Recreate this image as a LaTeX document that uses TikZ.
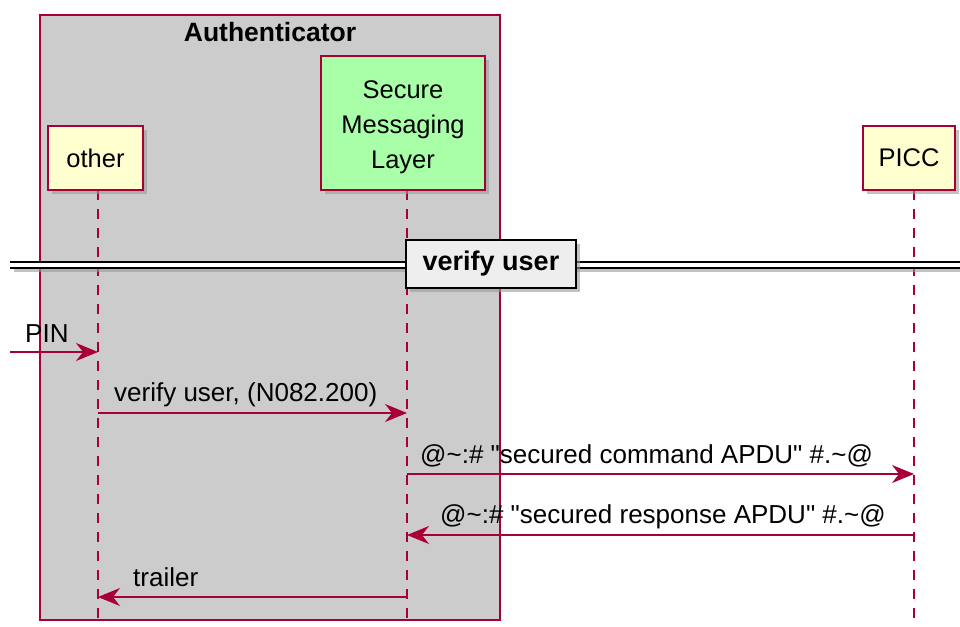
\documentclass[tikz,border=0pt]{standalone}
\usepackage{fontspec}
\setmainfont{Liberation Sans}
\usetikzlibrary{arrows.meta,positioning,shadows}
\definecolor{umlred}{HTML}{A80036}
\definecolor{umlyellow}{HTML}{FEFECE}
\definecolor{umlgreen}{HTML}{A8FFA8}
\definecolor{groupgray}{HTML}{CCCCCC}
\definecolor{dividergray}{HTML}{EEEEEE}

\begin{document}
\begin{tikzpicture}[x=1pt, y=-1pt,
    shade/.style={drop shadow={shadow xshift=4pt, shadow yshift=-4pt, fill=black!40, opacity=0.6}},
    part/.style={draw=umlred, line width=1.5pt, fill=umlyellow, inner sep=0pt, align=center,
      font=\fontsize{25.5}{35}\selectfont, shade},
    life/.style={umlred, line width=1.3pt, dash pattern=on 10pt off 9pt},
    msg/.style={umlred, line width=1.5pt, -{Stealth[length=22pt, width=18pt, inset=7pt]}},
    lbl/.style={anchor=west, inner sep=0pt, font=\fontsize{26}{30}\selectfont}
  ]
  \useasboundingbox (0,0) rectangle (960,626);

  % Gruppe
  \node[draw=umlred, line width=1.5pt, fill=groupgray, minimum width=460pt, minimum height=605pt, inner sep=0pt] (grp) at (270,317.5) {};
  \node[font=\fontsize{26.5}{30}\selectfont\bfseries] (grptitle) at (270,32) {Authenticator};

  % Lebenslinien
  \coordinate (othertop) at (98,190);
  \coordinate (smltop) at (407,190);
  \coordinate (picctop) at (914,190);
  \coordinate (bottom) at (0,626);
  \draw[life] (othertop) -- (othertop |- bottom);
  \draw[life] (smltop) -- (smltop |- bottom);
  \draw[life] (picctop) -- (picctop |- bottom);

  % Teilnehmer
  \node[part, minimum width=95pt, minimum height=64pt] (other) at (95.5,158) {other};
  \node[part, fill=umlgreen, minimum width=164pt, minimum height=134pt] (sml) at (403,123) {\rule{0pt}{26pt}Secure\\Messaging\\Layer};
  \node[part, minimum width=92pt, minimum height=64pt] (picc) at (909,158) {PICC};

  % Trenner
  \fill[white, shade] (10,262) rectangle (960,268);
  \draw[line width=1.3pt] (10,262) -- (960,262) (10,268) -- (960,268);
  \node[draw, line width=2pt, fill=dividergray, minimum width=170pt, minimum height=48pt,
    font=\fontsize{27}{30}\selectfont\bfseries, shade] (div) at (491,264) {verify user};

  % Nachrichten
  \coordinate (r1) at (0,352);
  \coordinate (r2) at (0,413);
  \coordinate (r3) at (0,474);
  \coordinate (r4) at (0,535);
  \coordinate (r5) at (0,597);
  \coordinate (pinstart) at (10,352);

  \draw[msg] (pinstart) -- (othertop |- r1);
  \draw[msg] (othertop |- r2) -- (smltop |- r2);
  \draw[msg] (smltop |- r3) -- (picctop |- r3);
  \draw[msg] (picctop |- r4) -- (smltop |- r4);
  \draw[msg] (smltop |- r5) -- (othertop |- r5);

  \node[lbl] (pinlbl) at (25,334) {PIN};
  \node[lbl] (verifylbl) at (114,395) {verify user, (N082.200)};
  \node[lbl] (cmdlbl) at (420,456) {@\textasciitilde:\# \textquotedbl secured command APDU\textquotedbl{} \#.\textasciitilde@};
  \node[lbl] (resplbl) at (440,517) {@\textasciitilde:\# \textquotedbl secured response APDU\textquotedbl{} \#.\textasciitilde@};
  \node[lbl] (trailerlbl) at (133,577) {trailer};
\end{tikzpicture}
\end{document}
